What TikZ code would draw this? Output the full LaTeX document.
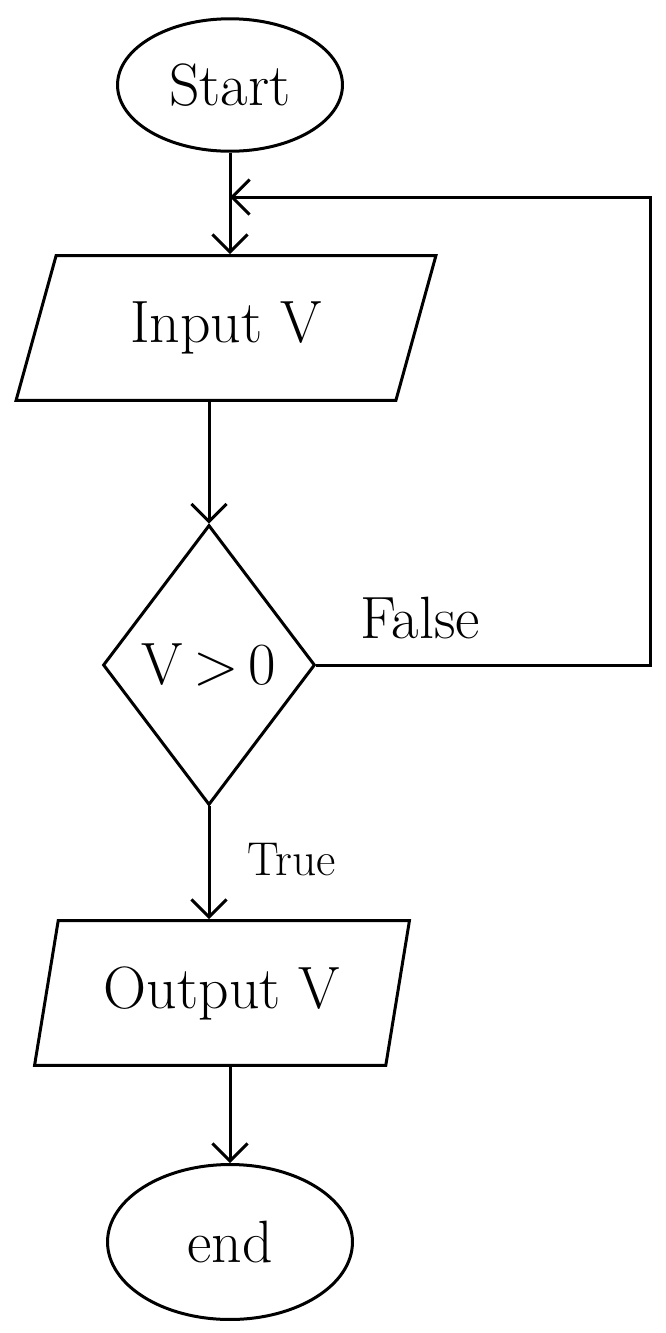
\documentclass[tikz,border=0pt]{standalone}
\usepackage{tikz}
\usetikzlibrary{shapes, arrows}
\usetikzlibrary{arrows.meta,shapes.geometric}
\usetikzlibrary{positioning}

\begin{document}
\begin{tikzpicture}[x=0.02cm,y=-0.02cm,
		    box/.style={draw,line width=0.6mm,font=\fontsize{34}{40}\selectfont},
		    flow/.style={-{Straight Barb[length=3.5mm,width=7mm]},line width=0.6mm}]

		    \useasboundingbox (0,0) rectangle (666,1333);
		    \node(start) [box,ellipse,minimum width=4.5cm,minimum height=2.65cm] at (230,85) {Start};
		    \node(input) [box,trapezium,trapezium left angle=58,trapezium right angle=122,trapezium stretches body,minimum width=8.4cm,minimum height=2.9cm] at (226,328) {Input V};
		    \node(check) [box,diamond,aspect=0.75,inner sep=0pt,minimum width=4.24cm,minimum height=5.6cm] at (209,665) {V\,{>}\,0};
		    \node(output) [box,trapezium,trapezium left angle=70,trapezium right angle=110,trapezium stretches body,minimum width=7.5cm,minimum height=2.9cm] at (222,993) {Output V};
		    \node(stop) [box,ellipse,minimum width=4.9cm,minimum height=3.1cm] at (230,1242) {end};

		    \node(false) [font=\fontsize{34}{40}\selectfont] at (420,618) {False};
		    \node(true) [font=\fontsize{27}{32}\selectfont] at (292,860) {True};

		    \coordinate (join) at (230,197);
		    \coordinate (corner) at (650,197);

		    \draw[flow] (start.south) -- (start.south |- input.north);
		    \draw[flow] (check.north |- input.south) -- (check.north);
		    \draw[flow] (check.south) -- (check.south |- output.north);
		    \draw[flow] (stop.north |- output.south) -- (stop.north);
		    \draw[flow] (check.east) -| (corner) -- (join);

\end{tikzpicture}
\end{document}
